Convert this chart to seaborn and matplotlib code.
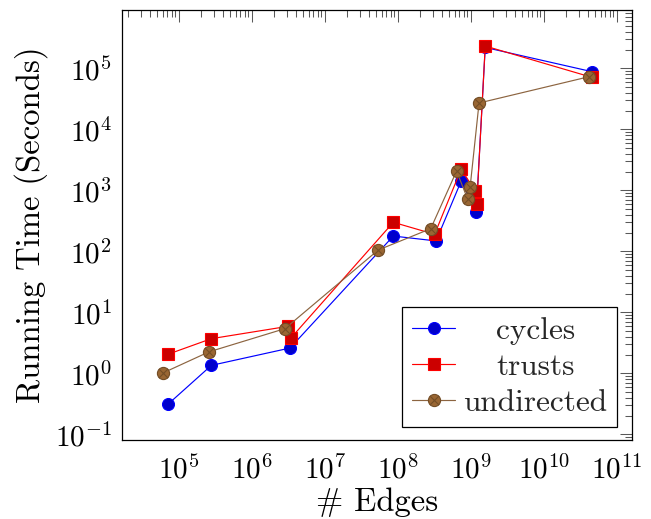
import numpy as np
import pandas as pd
import matplotlib
matplotlib.use('Agg')
import matplotlib.pyplot as plt
from matplotlib.path import Path
from matplotlib.ticker import LogLocator, NullFormatter, LogFormatterSciNotation
import seaborn as sns

# ---------------- data ----------------
cycles_edges = [7.1e4, 2.8e5, 3.35e6, 8.7e7, 3.35e8, 7.4e8, 1.19e9, 1.58e9, 4.6e10]
cycles_time = [0.31, 1.35, 2.6, 178, 148, 1420, 440, 2.2e5, 8.8e4]

trusts_edges = [7.1e4, 2.8e5, 3.15e6, 3.45e6, 8.7e7, 3.2e8, 7.4e8, 1.15e9, 1.21e9, 1.58e9, 4.6e10]
trusts_time = [2.05, 3.7, 5.9, 3.8, 299, 190, 2230, 975, 590, 2.32e5, 7.1e4]

undirected_edges = [6.15e4, 2.6e5, 2.85e6, 5.4e7, 2.83e8, 6.4e8, 9.1e8, 9.8e8, 1.3e9, 4.2e10]
undirected_time = [1.02, 2.25, 5.4, 105, 235, 2070, 711, 1120, 2.7e4, 7.3e4]

series_names = ["cycles", "trusts", "undirected"]
x_label = "# Edges"
y_label = "Running Time (Seconds)"

# ---------------- style ----------------
sns.set_theme(style="white")
plt.rcParams['font.family'] = ['cmr10', 'DejaVu Serif']
plt.rcParams['mathtext.fontset'] = 'cm'
plt.rcParams['axes.formatter.use_mathtext'] = True
plt.rcParams['axes.unicode_minus'] = True

FS_TICK = 21
FS_LABEL = 23.5
FS_LEG = 22.5

# otimes marker: circle with a cross inside
circ = Path.unit_circle()
d = 0.7071
cross1 = Path([(-d, -d), (d, d)], [Path.MOVETO, Path.LINETO])
cross2 = Path([(-d, d), (d, -d)], [Path.MOVETO, Path.LINETO])
otimes = Path.make_compound_path(circ, cross1, cross2)

fig = plt.figure(figsize=(6.51, 5.19), dpi=100)
ax = fig.add_axes([121.7 / 651, 1 - 440 / 519, (631.7 - 121.7) / 651, (440 - 10) / 519])

lw = 0.85
ms = 8.6
mew = 0.8

df_c = pd.DataFrame({"edges": cycles_edges, "time": cycles_time})
df_t = pd.DataFrame({"edges": trusts_edges, "time": trusts_time})
df_u = pd.DataFrame({"edges": undirected_edges, "time": undirected_time})

sns.lineplot(data=df_c, x="edges", y="time", ax=ax, estimator=None, sort=False,
             color="#0000FF", lw=lw, marker="o", markersize=ms,
             markerfacecolor="#0000CC", markeredgecolor="#0000FF", markeredgewidth=mew,
             label=series_names[0])
sns.lineplot(data=df_t, x="edges", y="time", ax=ax, estimator=None, sort=False,
             color="#FF0000", lw=lw, marker="s", markersize=ms * 0.95,
             markerfacecolor="#CC0000", markeredgecolor="#FF0000", markeredgewidth=mew,
             label=series_names[1])
sns.lineplot(data=df_u, x="edges", y="time", ax=ax, estimator=None, sort=False,
             color="#8C6440", lw=lw, marker=otimes, markersize=ms * 1.02,
             markerfacecolor="#996633", markeredgecolor="#734D26", markeredgewidth=mew,
             label=series_names[2])

ax.set_xscale('log')
ax.set_yscale('log')
ax.set_xlim(10 ** 4.219, 10 ** 11.205)
ax.set_ylim(10 ** -1.093, 10 ** 5.956)

ax.xaxis.set_major_locator(LogLocator(base=10, numticks=20))
ax.yaxis.set_major_locator(LogLocator(base=10, numticks=20))
ax.xaxis.set_minor_locator(LogLocator(base=10, subs=np.arange(2, 10), numticks=100))
ax.yaxis.set_minor_locator(LogLocator(base=10, subs=np.arange(2, 10), numticks=100))
ax.xaxis.set_major_formatter(LogFormatterSciNotation())
ax.yaxis.set_major_formatter(LogFormatterSciNotation())
ax.xaxis.set_minor_formatter(NullFormatter())
ax.yaxis.set_minor_formatter(NullFormatter())

ax.tick_params(which='both', direction='in', top=True, right=True,
               color='0.35', width=0.75)
ax.tick_params(which='major', length=8.3, labelsize=FS_TICK, labelcolor='black')
ax.tick_params(axis='x', which='major', pad=11)
ax.tick_params(axis='y', which='major', pad=7)
ax.tick_params(which='minor', length=5.0)

for sp in ax.spines.values():
    sp.set_color('black')
    sp.set_linewidth(0.9)

ax.set_xlabel(x_label, fontsize=FS_LABEL, labelpad=2, color='black')
ax.set_ylabel(y_label, fontsize=FS_LABEL, labelpad=5, color='black')
ax.grid(False)

leg = ax.legend(loc='lower right', bbox_to_anchor=(0.9706, 0.031), borderaxespad=0,
                fontsize=FS_LEG, frameon=True, fancybox=False, framealpha=1,
                edgecolor='black', handlelength=1.4, handletextpad=0.25,
                labelspacing=0.27, borderpad=0.3, numpoints=1)
leg.get_frame().set_linewidth(0.9)

# centre the legend texts in their column (pgfplots style)
fig.canvas.draw()
renderer = fig.canvas.get_renderer()
widths = [t.get_window_extent(renderer).width for t in leg.get_texts()]
wmax = max(widths)
for t, w in zip(leg.get_texts(), widths):
    t.set_position(((wmax - w) / 2, 0))

fig.savefig('out.png', dpi=100)
